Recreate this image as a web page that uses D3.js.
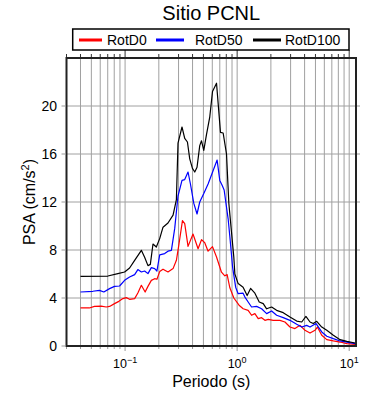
<!DOCTYPE html>
<html>
<head>
<meta charset="utf-8">
<script src="https://cdn.jsdelivr.net/npm/d3@7"></script>
<style>
body{margin:0;background:#fff;}
text{font-family:"Liberation Sans",Arial,Helvetica,sans-serif;fill:#000;}
</style>
</head>
<body>
<script>
// periods (s) and PSA (cm/s2)
var periodD0=[0.040,0.048,0.0533,0.0612,0.0679,0.0727,0.0805,0.088,0.0956,0.1025,0.1097,0.1217,0.130,0.1397,0.151,0.160,0.1715,0.1836,0.1924,0.2036,0.218,0.2415,0.268,0.287,0.303,0.325,0.3405,0.3645,0.4037,0.448,0.4808,0.514,0.5504,0.6026,0.6546,0.7247,0.776,0.814,0.861,0.934,1.04,1.132,1.254,1.345,1.44,1.542,1.653,1.77,1.893,2.099,2.41,2.67,2.96,3.28,3.64,4.03,4.47,4.95,5.2,5.69,6.31,7.22,8.29,9.52,11.3];
var rotD0=[3.17,3.17,3.3,3.33,3.25,3.3,3.53,3.72,3.95,4.03,3.89,3.95,4.42,5.06,4.5,4.97,5.47,5.61,5.56,6.2,6.4,6.17,6.45,7.14,8.53,10.45,10.2,8.3,9.33,8.1,8.86,8.6,7.9,8.28,7.42,6.15,5.85,5.95,4.85,4.0,3.4,3.1,2.97,2.56,2.7,2.28,2.36,2.14,2.22,2.14,2.14,2.0,1.58,1.45,1.72,1.31,1.08,1.31,1.58,0.89,0.53,0.42,0.33,0.2,0.14];

var periodD50=[0.040,0.0515,0.0591,0.0646,0.0727,0.0805,0.0893,0.099,0.1097,0.1217,0.130,0.1397,0.1494,0.160,0.1715,0.1836,0.1924,0.2036,0.2256,0.2415,0.259,0.2773,0.2966,0.322,0.3405,0.3645,0.383,0.410,0.4385,0.4637,0.5038,0.5504,0.6098,0.6625,0.700,0.7345,0.7655,0.831,0.861,0.910,0.97,1.021,1.13,1.17,1.254,1.345,1.492,1.653,1.833,2.031,2.25,2.578,2.96,3.40,3.77,4.17,4.47,5.06,5.69,6.31,7.22,8.29,9.52,11.3];
var rotD50=[4.5,4.56,4.64,4.5,4.78,4.97,5.0,5.47,5.75,5.95,6.37,6.17,6.25,6.03,6.53,6.45,6.25,7.6,7.7,7.9,7.97,9.8,12.5,13.8,13.87,14.5,13.5,11.9,11.0,12.0,12.7,13.5,14.6,15.5,13.8,13.4,13.0,10.6,9.1,6.6,4.9,4.36,4.4,4.1,3.67,3.25,3.3,3.1,2.7,2.92,2.56,2.36,2.14,1.81,1.58,1.72,1.58,1.87,1.17,0.81,0.61,0.42,0.33,0.2];

var periodD100=[0.040,0.0702,0.0862,0.099,0.1097,0.1217,0.1397,0.1494,0.160,0.168,0.1774,0.190,0.2036,0.218,0.2415,0.268,0.287,0.2966,0.322,0.3405,0.360,0.3775,0.399,0.4185,0.4385,0.4637,0.4808,0.5038,0.532,0.570,0.6026,0.6546,0.710,0.750,0.8036,0.843,0.934,0.954,1.021,1.13,1.228,1.318,1.44,1.574,1.709,1.833,2.031,2.25,2.578,2.96,3.40,3.77,4.11,4.47,4.78,5.13,5.69,6.31,7.22,8.29,9.52,11.3];
var rotD100=[5.8,5.83,6.03,6.17,6.5,7.14,7.97,7.4,6.7,6.8,8.5,8.25,8.95,9.9,10.25,10.9,12.2,16.9,18.25,17.3,17.0,15.6,14.8,14.5,14.9,16.7,17.1,16.3,17.6,19.1,21.2,21.9,17.8,17.75,16.0,11.9,7.4,6.0,5.2,4.9,4.2,4.8,4.4,3.67,3.53,3.1,3.25,2.97,2.78,2.42,2.08,2.0,2.47,2.0,1.87,2.06,1.58,1.31,0.9,0.53,0.39,0.25];

var seriesNames=["RotD0","RotD50","RotD100"];
var seriesColors=["#ff0000","#0000ff","#000000"];
var yTicks=[0,4,8,12,16,20];
var xLabelValues=[0.1,1,10];
var xLabelExps=["\u22121","0","1"];

var W=390,H=400;
var pL=66.5,pR=356,pT=58,pB=346;

var svg=d3.select("body").append("svg")
        .attr("width",W)
        .attr("height",H);

var x=d3.scaleLog().domain([0.03,11.5]).range([pL,pR]);
var y=d3.scaleLinear().domain([0,24]).range([pB,pT]);

var minorT=x.ticks().filter(function(d){return x(d)>pL+1&&x(d)<pR-1;});
var isDecade=function(d){return Math.abs(Math.log10(d)-Math.round(Math.log10(d)))<1e-6;};

//grid
var grid=svg.append("g").attr("class","grid");
grid.selectAll("line.v").data(minorT).enter().append("line")
    .attr("class","v")
    .attr("x1",function(d){return x(d);})
    .attr("x2",function(d){return x(d);})
    .attr("y1",pT).attr("y2",pB)
    .style("stroke","#a0a0a0").style("stroke-width",1);
grid.selectAll("line.h").data(yTicks.filter(function(d){return d>0;})).enter().append("line")
    .attr("class","h")
    .attr("y1",function(d){return y(d);})
    .attr("y2",function(d){return y(d);})
    .attr("x1",pL).attr("x2",pR)
    .style("stroke","#a0a0a0").style("stroke-width",1);

//curves
var series=[
    {p:periodD0,v:rotD0},
    {p:periodD50,v:rotD50},
    {p:periodD100,v:rotD100}
];
var line=d3.line()
    .x(function(d){return x(d[0]);})
    .y(function(d){return y(d[1]);});
svg.append("g").selectAll("path").data(series).enter().append("path")
    .attr("d",function(s){return line(s.p.map(function(t,i){return [t,s.v[i]];}));})
    .style("fill","none")
    .style("stroke",function(s,i){return seriesColors[i];})
    .style("stroke-width",1.2)
    .style("stroke-linejoin","round");

//frame
svg.append("rect")
    .attr("x",pL).attr("y",pT)
    .attr("width",pR-pL).attr("height",pB-pT)
    .style("fill","none").style("stroke","#222").style("stroke-width",2);

//ticks
var ticks=svg.append("g");
var allT=minorT.concat([0.03]);
ticks.selectAll("line.top").data(allT).enter().append("line")
    .attr("class","top")
    .attr("x1",function(d){return x(d);}).attr("x2",function(d){return x(d);})
    .attr("y1",pT-1).attr("y2",function(d){return isDecade(d)?pT-8:pT-4;})
    .style("stroke","#333").style("stroke-width",1);
ticks.selectAll("line.bot").data(allT).enter().append("line")
    .attr("class","bot")
    .attr("x1",function(d){return x(d);}).attr("x2",function(d){return x(d);})
    .attr("y1",pB+1).attr("y2",function(d){return isDecade(d)?pB+5:pB+3;})
    .style("stroke","#999").style("stroke-width",1);
ticks.selectAll("line.left").data(yTicks).enter().append("line")
    .attr("class","left")
    .attr("y1",function(d){return y(d);}).attr("y2",function(d){return y(d);})
    .attr("x1",pL-1).attr("x2",pL-5)
    .style("stroke","#999").style("stroke-width",1);
ticks.selectAll("line.right").data(yTicks.filter(function(d){return d>0;})).enter().append("line")
    .attr("class","right")
    .attr("y1",function(d){return y(d);}).attr("y2",function(d){return y(d);})
    .attr("x1",pR+1).attr("x2",pR+4)
    .style("stroke","#999").style("stroke-width",1);

//tick labels
svg.append("g").selectAll("text").data(yTicks).enter().append("text")
    .attr("x",57).attr("y",function(d){return y(d)+5;})
    .attr("text-anchor","end")
    .style("font-size","14px")
    .text(function(d){return d;});

var xl=svg.append("g").selectAll("text").data(xLabelValues).enter().append("text")
    .attr("x",function(d){return x(d);}).attr("y",367.5)
    .attr("text-anchor","middle")
    .style("font-size","12.5px");
xl.append("tspan").text("10");
xl.append("tspan").attr("dy",-5).style("font-size","9px")
    .text(function(d,i){return xLabelExps[i];});

//axis titles
svg.append("text")
    .attr("x",(pL+pR)/2).attr("y",387)
    .attr("text-anchor","middle")
    .style("font-size","16px")
    .text("Periodo (s)");

var yl=svg.append("text")
    .attr("transform","translate(35,"+((pT+pB)/2)+") rotate(-90)")
    .attr("text-anchor","middle")
    .style("font-size","16px");
yl.append("tspan").text("PSA (cm/s");
yl.append("tspan").attr("dy",-6).style("font-size","11px").text("2");
yl.append("tspan").attr("dy",6).text(")");

svg.append("text")
    .attr("x",(pL+pR)/2).attr("y",20)
    .attr("text-anchor","middle")
    .style("font-size","20px")
    .text("Sitio PCNL");

//legend
var legend=svg.append("g");
legend.append("rect")
    .attr("x",72.7).attr("y",29)
    .attr("width",276.3).attr("height",21)
    .style("fill","#fff").style("stroke","#000").style("stroke-width",1.5);
var legX=[79,156,253];
var legTextX=[107,195,285];
legend.selectAll("line").data(seriesNames).enter().append("line")
    .attr("x1",function(d,i){return legX[i];})
    .attr("x2",function(d,i){return legX[i]+28-(i==0?5:0);})
    .attr("y1",40).attr("y2",40)
    .style("stroke",function(d,i){return seriesColors[i];})
    .style("stroke-width",3);
legend.selectAll("text").data(seriesNames).enter().append("text")
    .attr("x",function(d,i){return legTextX[i];})
    .attr("y",45)
    .style("font-size","14px")
    .text(function(d){return d;});
</script>
</body>
</html>
